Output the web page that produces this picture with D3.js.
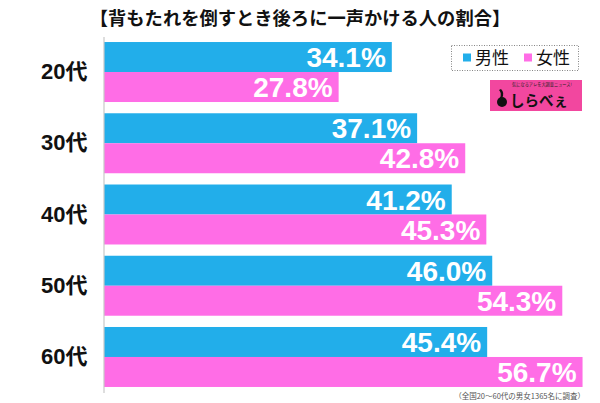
<!DOCTYPE html>
<html><head><meta charset="utf-8">
<script src="https://cdn.jsdelivr.net/npm/d3@7"></script>
<style>
html,body{margin:0;padding:0;background:#fff;}
svg{display:block;}
</style></head>
<body>
<svg id="chart" width="600" height="403"></svg>
<script>
const title = "【背もたれを倒すとき後ろに一声かける人の割合】";
const categories = ["20代","30代","40代","50代","60代"];
const seriesNames = ["男性","女性"];
const maleValues = [34.1,37.1,41.2,46.0,45.4];
const femaleValues = [27.8,42.8,45.3,54.3,56.7];
const seriesColors = ["#22aeea","#ff6de6"];
const note = "（全国20～60代の男女1365名に調査）";

const rows = categories.map((c,i)=>({cat:c, values:[maleValues[i], femaleValues[i]]}));

const svg = d3.select("#chart");
const W = 600, H = 403;
const jp = "'Noto Sans CJK JP','Noto Sans',sans-serif";
const latin = "'Liberation Sans','Noto Sans CJK JP',Arial,sans-serif";

const x = d3.scaleLinear().domain([0,60]).range([104, 104 + 60*8.44]);
const y0 = d3.scaleBand().domain(categories).range([36.4,392.6]).paddingInner(0.158).paddingOuter(0.079);
const y1 = d3.scaleBand().domain([0,1]).range([0,y0.bandwidth()]);

// title
svg.append("text").attr("x",W/2).attr("y",25).attr("text-anchor","middle")
  .attr("font-family",jp).attr("font-weight","bold").attr("font-size",18.3).attr("fill","#111")
  .text(title);

// bars
const g = svg.append("g").selectAll("g").data(rows).join("g")
  .attr("transform",d=>`translate(0,${y0(d.cat)})`);
g.selectAll("rect").data(d=>d.values.map((v,k)=>({v,k}))).join("rect")
  .attr("x",x(0)).attr("y",d=>y1(d.k)).attr("width",d=>x(d.v)-x(0)).attr("height",y1.bandwidth())
  .attr("fill",d=>seriesColors[d.k]);
g.selectAll("text.val").data(d=>d.values.map((v,k)=>({v,k}))).join("text")
  .attr("class","val")
  .attr("x",d=>x(d.v)-6).attr("y",d=>y1(d.k)+y1.bandwidth()/2).attr("dy","0.36em")
  .attr("text-anchor","end").attr("font-family",latin).attr("font-weight","bold").attr("font-size",28)
  .attr("fill","#fff").text(d=>d3.format(".1f")(d.v)+"%");

// axis
const ax = svg.append("g").attr("transform",`translate(${x(0)-0.5},0)`)
  .call(d3.axisLeft(y0).tickSize(0).tickPadding(16));
ax.select(".domain").attr("stroke","#c8c8c8").attr("stroke-width",1.2);
ax.selectAll(".tick text").attr("font-family",latin).attr("font-weight","bold").attr("font-size",22).attr("fill","#111");

// legend
const lg = svg.append("g");
lg.append("rect").attr("x",451.5).attr("y",45.5).attr("width",127).attr("height",25)
  .attr("fill","#fff").attr("stroke","#666").attr("stroke-dasharray","1,1.5").attr("stroke-width",0.8);
const lx = [463, 524];
seriesNames.forEach((s,k)=>{
  lg.append("rect").attr("x",lx[k]).attr("y",53.5).attr("width",8).attr("height",8).attr("fill",seriesColors[k]);
  lg.append("text").attr("x",lx[k]+12).attr("y",58).attr("dy","0.36em").attr("font-family",jp)
    .attr("font-size",17).attr("fill","#111").text(s);
});

// logo
const logo = svg.append("g").attr("transform","translate(490,80)");
logo.append("rect").attr("width",92).attr("height",31).attr("fill","#f2479f");
logo.append("text").attr("x",52).attr("y",6).attr("text-anchor","middle").attr("font-family",jp)
  .attr("font-size",4.2).attr("fill","#222").text("気になるアレを大調査ニュース!");
logo.append("circle").attr("cx",12).attr("cy",22).attr("r",5).attr("fill","#111");
logo.append("path").attr("d","M11,9 Q15,13 12,18 L10,18 Q12,13 9,10 Z").attr("fill","#111");
logo.append("text").attr("x",20).attr("y",26).attr("font-family",jp).attr("font-weight","bold")
  .attr("font-size",14.5).attr("fill","#111").text("しらべぇ");

// note
svg.append("text").attr("x",585).attr("y",396).attr("dy","0.36em").attr("text-anchor","end")
  .attr("font-family",jp).attr("font-size",7.5).attr("fill","#555").text(note);
</script>
</body></html>
